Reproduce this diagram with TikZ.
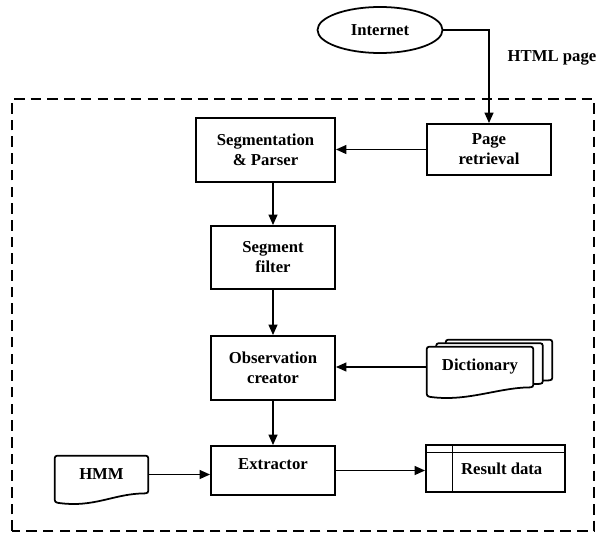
\documentclass[tikz,border=0pt]{standalone}
\usepackage{fontspec}
\setmainfont{Liberation Serif}
\usetikzlibrary{shapes.geometric,arrows.meta,backgrounds}

\tikzset{
  every node/.style={font=\fontsize{9.5}{11.4}\selectfont\bfseries},
  box/.style={draw, line width=1pt, minimum width=2.48cm, minimum height=1.26cm, align=center, inner sep=2pt},
  docline/.style={line width=1pt, fill=white, rounded corners=1.5pt},
  arr/.style={line width=1.1pt, -{Triangle[length=6pt,width=5pt]}},
}

% page with a wavy lower edge, drawn round node #1, shifted by #2
\newcommand{\docpage}[2]{%
  \draw[docline] ([shift={(#2)}]#1.north west) -- ([shift={(#2)}]#1.north east)
    -- ([shift={(#2)}]#1.south east)
    .. controls ([shift={(#2)},xshift=-0.7cm]#1.south east) and ([shift={(#2)},xshift=0.8cm,yshift=-0.3cm]#1.south west)
    .. ([shift={(#2)},yshift=-0.18cm]#1.south west) -- cycle;}

\begin{document}
\begin{tikzpicture}
\useasboundingbox (0,0) rectangle (11.98,10.84);
% system boundary
\draw[line width=1.6pt, dash pattern=on 6pt off 3.5pt] (0.24,0.22) rectangle (11.88,8.86);

\node[draw, ellipse, line width=1pt, minimum width=2.5cm, minimum height=0.92cm, inner sep=0pt] (net) at (7.60,10.24) {Internet};
\node (html) at (11.04,9.68) {HTML page};
\node[box, minimum height=1.02cm] (page) at (9.78,7.85) {Page\\retrieval};
\node[box, minimum width=2.78cm, minimum height=1.28cm] (seg) at (5.31,7.84) {Segmentation\\\& Parser};
\node[box] (filter) at (5.46,5.69) {Segment\\filter};
\node[box, minimum height=1.28cm] (obs) at (5.46,3.48) {Observation\\creator};
\node[box, minimum height=0.98cm, text depth=0.25cm] (ext) at (5.46,1.43) {Extractor};
\node[minimum width=2.12cm, minimum height=0.8cm, inner sep=0pt] (dict) at (9.60,3.50) {Dictionary};
\node[minimum width=1.86cm, minimum height=0.74cm, inner sep=0pt] (hmm) at (2.03,1.35) {HMM};
\node[box, minimum width=2.78cm, minimum height=0.94cm] (res) at (9.91,1.47) {\hspace{0.25cm}Result data};

% stacked pages behind the texts
\begin{scope}[on background layer]
\docpage{dict}{0.38,0.14}
\docpage{dict}{0.19,0.07}
\docpage{dict}{0,0}
\docpage{hmm}{0,0}
\end{scope}

% table rules of the result store
\draw[line width=0.6pt] ([yshift=-0.16cm]res.north west) -- ([yshift=-0.16cm]res.north east);
\draw[line width=0.6pt] ([xshift=0.54cm]res.north west) -- ([xshift=0.54cm]res.south west);

\draw[arr] (net.east) -| (page.north);
\draw[arr] (page.west) -- (page.west -| seg.east);
\draw[arr] (seg.south -| filter.north) -- (filter.north);
\draw[arr] (filter) -- (obs);
\draw[arr] (obs) -- (ext);
\draw[arr] (dict.west) -- (dict.west -| obs.east);
\draw[arr] (hmm.east) -- (hmm.east -| ext.west);
\draw[arr] (ext.east) -- (ext.east -| res.west);
\end{tikzpicture}
\end{document}
